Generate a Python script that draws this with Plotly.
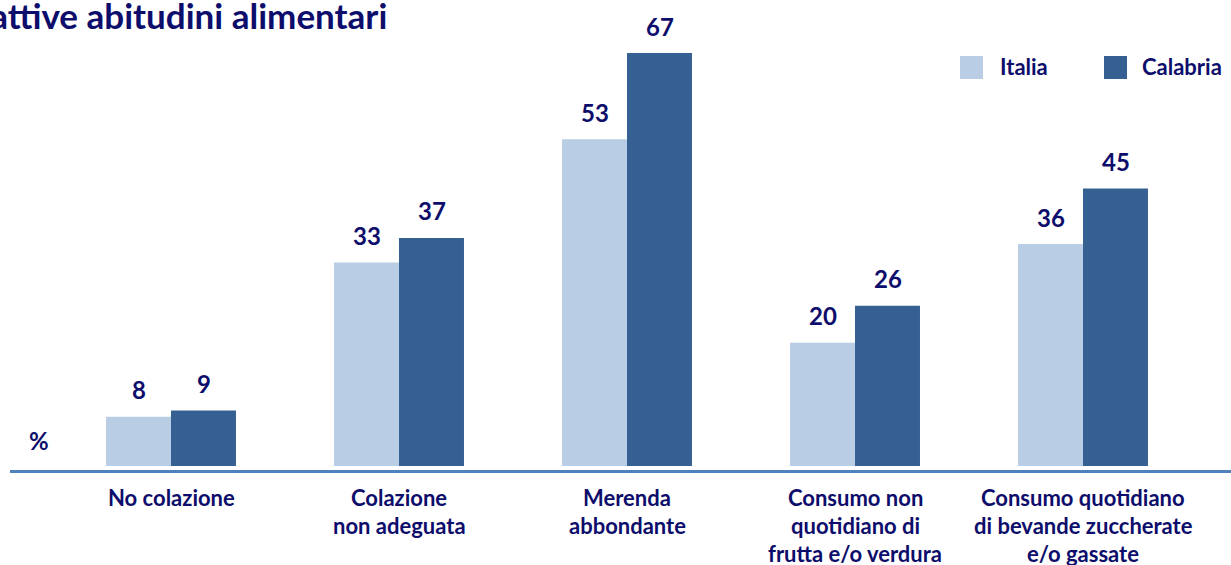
import plotly.graph_objects as go

# ---- data ----
title_text = "Cattive abitudini alimentari"
categories = [
    "No colazione",
    "Colazione<br>non adeguata",
    "Merenda<br>abbondante",
    "Consumo non<br>quotidiano di<br>frutta e/o verdura",
    "Consumo quotidiano<br>di bevande zuccherate<br>e/o gassate",
]
series_names = ["Italia", "Calabria"]
italia = [8, 33, 53, 20, 36]
calabria = [9, 37, 67, 26, 45]
unit_label = "%"

# ---- style ----
W, H = 1231, 565
TXT = "#0D0D6B"
FONT = "Lato"
C_ITA = "#B9CDE5"
C_CAL = "#376092"
AX = "#4F81BD"

ml, mr, mt, mb = 10, 0, 40, 95
plot_w = W - ml - mr
plot_h = H - mt - mb
px_per_cat = 228.0
cat0_px = 171 - ml
x_range = [-cat0_px / px_per_cat, (plot_w - cat0_px) / px_per_cat]
px_per_unit = 6.164
y0 = -4 / px_per_unit
y_range = [y0, y0 + plot_h / px_per_unit]

idx = list(range(len(categories)))

fig = go.Figure()
fig.add_trace(go.Bar(x=idx, y=italia, name=series_names[0], marker_color=C_ITA,
                     marker_line_width=0, showlegend=False, hoverinfo="skip"))
fig.add_trace(go.Bar(x=idx, y=calabria, name=series_names[1], marker_color=C_CAL,
                     marker_line_width=0, showlegend=False, hoverinfo="skip"))

ann = []
# data labels
for vals, sh in ((italia, -32.5), (calabria, 32.5)):
    for i, v in enumerate(vals):
        ann.append(dict(x=i, y=v, xref="x", yref="y", text=f"<b>{v}</b>",
                        showarrow=False, xshift=sh, yshift=27, yanchor="middle",
                        font=dict(family=FONT, size=24, color=TXT)))
# category labels, one annotation per line
for i, c in enumerate(categories):
    for j, line in enumerate(c.split("<br>")):
        ann.append(dict(x=i, y=0, xref="x", yref="y", text=f"<b>{line}</b>",
                        showarrow=False, yanchor="middle", yshift=-31 - 28 * j,
                        font=dict(family=FONT, size=22, color=TXT)))


def px2x(p):
    return (p - ml) / plot_w


def py2y(p):
    return (H - mb - p) / plot_h


# title
ann.append(dict(x=px2x(389), y=py2y(15), xref="paper", yref="paper", xanchor="right",
                yanchor="middle", text=f"<b>{title_text}</b>", showarrow=False,
                font=dict(family=FONT, size=35, color=TXT)))
# unit
ann.append(dict(x=px2x(39), y=py2y(440), xref="paper", yref="paper", xanchor="center",
                yanchor="middle", text=f"<b>{unit_label}</b>", showarrow=False,
                font=dict(family=FONT, size=24, color=TXT)))

# custom legend
shapes = []
leg = [(960, 998, C_ITA, series_names[0]), (1104, 1140, C_CAL, series_names[1])]
for sx, tx, col, name in leg:
    shapes.append(dict(type="rect", xref="paper", yref="paper",
                       x0=px2x(sx), x1=px2x(sx + 23), y0=py2y(79), y1=py2y(56),
                       fillcolor=col, line_width=0))
    ann.append(dict(x=px2x(tx), y=py2y(67), xref="paper", yref="paper", xanchor="left",
                    yanchor="middle", text=f"<b>{name}</b>", showarrow=False,
                    font=dict(family=FONT, size=22, color=TXT)))

fig.update_layout(
    width=W, height=H,
    margin=dict(l=ml, r=mr, t=mt, b=mb, pad=0),
    barmode="group", bargap=0.43, bargroupgap=0,
    plot_bgcolor="white", paper_bgcolor="white",
    annotations=ann, shapes=shapes,
    xaxis=dict(range=x_range, showticklabels=False, showgrid=False, zeroline=False,
               showline=True, linecolor=AX, linewidth=3, ticks=""),
    yaxis=dict(range=y_range, visible=False, showgrid=False, zeroline=False),
)

fig.write_html("out.html", config={"displayModeBar": False},
               post_script="document.body.style.margin='0';document.body.style.overflow='hidden';")
